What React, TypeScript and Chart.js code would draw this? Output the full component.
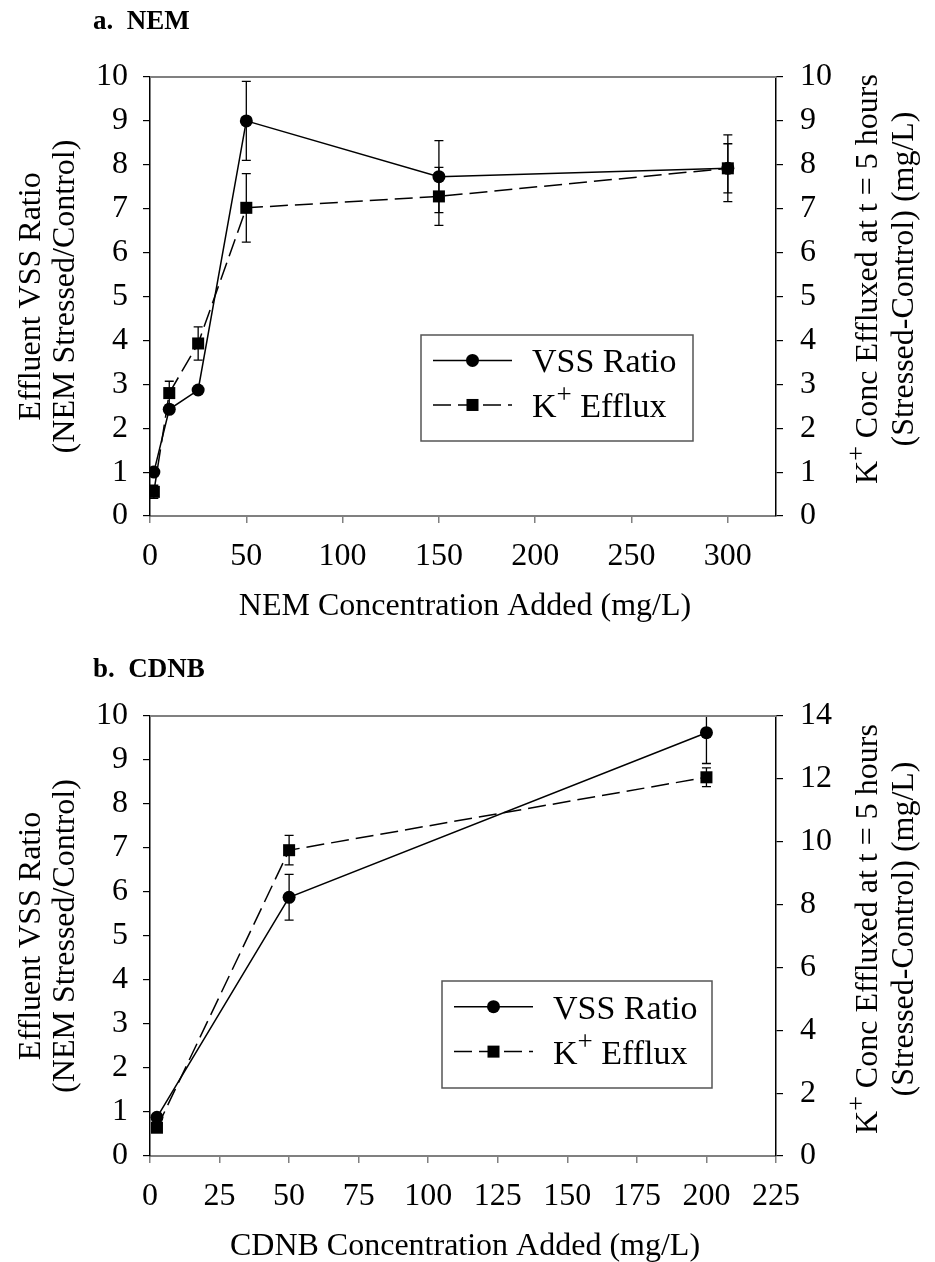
import React, { useEffect, useRef } from 'react';
import { Chart, registerables } from 'chart.js';

Chart.register(...registerables);

const SERIF = '"Liberation Serif", "Times New Roman", serif';

// Panel a: NEM
const nemConc = [2, 10, 25, 50, 150, 300];
const nemVss = [1.0, 2.43, 2.87, 9.0, 7.73, 7.92];
const nemVssErr = [0, 0, 0, 0.9, 0.82, 0.76];
const nemK = [0.55, 2.8, 3.93, 7.02, 7.28, 7.92];
const nemKErr = [0.15, 0.27, 0.38, 0.78, 0.66, 0.56];

// Panel b: CDNB
const cdnbConc = [2.5, 50, 200];
const cdnbVss = [0.88, 5.88, 9.62];
const cdnbVssErr = [0, 0.52, 0.7];
const cdnbK = [0.9, 9.73, 12.05];
const cdnbKErr = [0, 0.47, 0.3];

const vssLabel = 'VSS Ratio';
const kLabel = 'Efflux';

type Part = { t: string; size: number; rise?: number; bold?: boolean };

function partsWidth(ctx: CanvasRenderingContext2D, parts: Part[]) {
  let w = 0;
  for (const p of parts) {
    ctx.font = `${p.bold ? 'bold ' : ''}${p.size}px ${SERIF}`;
    w += ctx.measureText(p.t).width;
  }
  return w;
}

function drawParts(ctx: CanvasRenderingContext2D, parts: Part[], x: number, y: number, align: 'left' | 'center') {
  let cx = align === 'center' ? x - partsWidth(ctx, parts) / 2 : x;
  ctx.textAlign = 'left';
  ctx.textBaseline = 'alphabetic';
  for (const p of parts) {
    ctx.font = `${p.bold ? 'bold ' : ''}${p.size}px ${SERIF}`;
    ctx.fillText(p.t, cx, y - (p.rise || 0));
    cx += ctx.measureText(p.t).width;
  }
}

const kPlus = (rest: string, size: number): Part[] => [
  { t: 'K', size },
  { t: '+', size: Math.round(size * 0.8), rise: size * 0.4 },
  { t: rest, size },
];

type Panel = {
  title: string;
  xTitle: string;
  conc: number[];
  vss: number[];
  vssErr: number[];
  k: number[];
  kErr: number[];
  xMax: number;
  xStep: number;
  y1Max: number;
  y1Step: number;
  areaTop: number;
  areaBottom: number;
  titleY: number;
  rightTitleY: number;
  legend: { x: number; y: number; w: number; h: number };
};

const W = 935;
const H = 631;
const AREA_LEFT = 150;
const AREA_RIGHT = 776;

const panels: Panel[] = [
  {
    title: 'a.  NEM',
    xTitle: 'NEM Concentration Added (mg/L)',
    conc: nemConc,
    vss: nemVss,
    vssErr: nemVssErr,
    k: nemK,
    kErr: nemKErr,
    xMax: 325,
    xStep: 50,
    y1Max: 10,
    y1Step: 1,
    areaTop: 77,
    areaBottom: 516,
    titleY: 29,
    rightTitleY: 279,
    legend: { x: 421, y: 335, w: 272, h: 106 },
  },
  {
    title: 'b.  CDNB',
    xTitle: 'CDNB Concentration Added (mg/L)',
    conc: cdnbConc,
    vss: cdnbVss,
    vssErr: cdnbVssErr,
    k: cdnbK,
    kErr: cdnbKErr,
    xMax: 225,
    xStep: 25,
    y1Max: 14,
    y1Step: 2,
    areaTop: 85,
    areaBottom: 525,
    titleY: 46,
    rightTitleY: 298,
    legend: { x: 442, y: 350, w: 270, h: 107 },
  },
];

// Vertical error bars with caps, clipped to the plot area
const errorBars = {
  id: 'errorBars',
  beforeDatasetsDraw(chart: any) {
    const { ctx, chartArea } = chart;
    ctx.save();
    ctx.beginPath();
    ctx.rect(chartArea.left, chartArea.top - 1, chartArea.right - chartArea.left, chartArea.bottom - chartArea.top + 2);
    ctx.clip();
    ctx.strokeStyle = '#000';
    ctx.lineWidth = 1.3;
    chart.data.datasets.forEach((ds: any) => {
      const xs = chart.scales.x;
      const ys = chart.scales[ds.yAxisID];
      ds.data.forEach((pt: any, i: number) => {
        const e = ds.errors[i];
        if (!e) return;
        const x = xs.getPixelForValue(pt.x);
        const y1 = ys.getPixelForValue(pt.y + e);
        const y2 = ys.getPixelForValue(pt.y - e);
        ctx.beginPath();
        ctx.moveTo(x, y1);
        ctx.lineTo(x, y2);
        ctx.moveTo(x - 4.5, y1);
        ctx.lineTo(x + 4.5, y1);
        ctx.moveTo(x - 4.5, y2);
        ctx.lineTo(x + 4.5, y2);
        ctx.stroke();
      });
    });
    ctx.restore();
  },
};

// Frame top line, panel caption, axis titles and boxed legend
const decorations = {
  id: 'decorations',
  afterDraw(chart: any, _args: any, opts: any) {
    const p: Panel = opts.panel;
    const { ctx, chartArea } = chart;
    ctx.save();
    ctx.fillStyle = '#000';

    // top frame line
    ctx.strokeStyle = '#808080';
    ctx.lineWidth = 2;
    ctx.beginPath();
    ctx.moveTo(chartArea.left, chartArea.top);
    ctx.lineTo(chartArea.right, chartArea.top);
    ctx.stroke();

    // panel caption
    drawParts(ctx, [{ t: p.title, size: 27, bold: true }], 93, p.titleY, 'left');

    const midY = (chartArea.top + chartArea.bottom) / 2;
    const midX = (chartArea.left + chartArea.right) / 2;

    // x-axis title
    ctx.font = `32px ${SERIF}`;
    ctx.textAlign = 'center';
    ctx.textBaseline = 'middle';
    ctx.fillText(p.xTitle, midX + 2, chartArea.bottom + 91);

    // left axis title (two lines, reading upward)
    ctx.save();
    ctx.translate(32, midY);
    ctx.rotate(-Math.PI / 2);
    ctx.font = `32px ${SERIF}`;
    ctx.textAlign = 'center';
    ctx.textBaseline = 'middle';
    ctx.fillText('Effluent VSS Ratio', 0, 0);
    ctx.fillText('(NEM Stressed/Control)', 0, 34);
    ctx.restore();

    // right axis title (two lines, reading upward)
    ctx.save();
    ctx.translate(866, p.rightTitleY);
    ctx.rotate(-Math.PI / 2);
    drawParts(ctx, kPlus(' Conc Effluxed at t = 5 hours', 32), 0, 11, 'center');
    drawParts(ctx, [{ t: '(Stressed-Control) (mg/L)', size: 32 }], 0, 47, 'center');
    ctx.restore();

    // legend
    const L = p.legend;
    ctx.strokeStyle = '#555';
    ctx.lineWidth = 1.5;
    ctx.strokeRect(L.x, L.y, L.w, L.h);
    const r1 = L.y + L.h * 0.24;
    const r2 = L.y + L.h * 0.66;
    const lx1 = L.x + 12;
    const lx2 = L.x + 91;
    const mx = (lx1 + lx2) / 2;
    ctx.strokeStyle = '#000';
    ctx.lineWidth = 1.5;
    ctx.beginPath();
    ctx.moveTo(lx1, r1);
    ctx.lineTo(lx2, r1);
    ctx.stroke();
    ctx.beginPath();
    ctx.arc(mx, r1, 6.5, 0, Math.PI * 2);
    ctx.fill();
    ctx.setLineDash([18, 7]);
    ctx.beginPath();
    ctx.moveTo(lx1, r2);
    ctx.lineTo(lx2, r2);
    ctx.stroke();
    ctx.setLineDash([]);
    ctx.fillRect(mx - 6, r2 - 6, 12, 12);
    const tx = L.x + 111;
    drawParts(ctx, [{ t: vssLabel, size: 34 }], tx, r1 + 12, 'left');
    drawParts(ctx, kPlus(' ' + kLabel, 34), tx, r2 + 12, 'left');

    ctx.restore();
  },
};

function PanelChart({ panel }: { panel: Panel }) {
  const ref = useRef<HTMLCanvasElement>(null);
  useEffect(() => {
    if (!ref.current) return;
    const tickFont = { family: SERIF, size: 32 };
    const chart = new Chart(ref.current, {
      type: 'scatter',
      data: {
        datasets: [
          {
            label: vssLabel,
            data: panel.conc.map((x, i) => ({ x, y: panel.vss[i] })),
            errors: panel.vssErr,
            yAxisID: 'y',
            showLine: true,
            borderColor: '#000',
            backgroundColor: '#000',
            borderWidth: 1.5,
            pointStyle: 'circle',
            pointRadius: 6.5,
            pointBorderWidth: 0,
          } as any,
          {
            label: 'K+ ' + kLabel,
            data: panel.conc.map((x, i) => ({ x, y: panel.k[i] })),
            errors: panel.kErr,
            yAxisID: 'y1',
            showLine: true,
            borderColor: '#000',
            backgroundColor: '#000',
            borderWidth: 1.5,
            borderDash: [18, 7],
            pointStyle: 'rect',
            pointRadius: 8.5,
            pointBorderWidth: 0,
          } as any,
        ],
      },
      options: {
        animation: false,
        responsive: false,
        devicePixelRatio: 1,
        layout: { padding: { top: panel.areaTop, left: 0, right: 0, bottom: 0 } },
        plugins: {
          legend: { display: false },
          tooltip: { enabled: false },
          decorations: { panel },
        } as any,
        scales: {
          x: {
            type: 'linear',
            min: 0,
            max: panel.xMax,
            ticks: {
              stepSize: panel.xStep,
              includeBounds: false,
              autoSkip: false,
              maxRotation: 0,
              font: tickFont,
              color: '#000',
              padding: 14,
            },
            grid: { drawOnChartArea: false, tickLength: 7, color: '#808080', lineWidth: 1.5 },
            border: { color: '#808080', width: 2 },
            afterFit: (s: any) => {
              s.height = H - panel.areaBottom;
            },
          },
          y: {
            type: 'linear',
            position: 'left',
            min: 0,
            max: 10,
            ticks: { stepSize: 1, autoSkip: false, font: tickFont, color: '#000', padding: 15 },
            grid: { drawOnChartArea: false, tickLength: 7, color: '#000', lineWidth: 1.2 },
            border: { color: '#000', width: 1.5 },
            afterFit: (s: any) => {
              s.width = AREA_LEFT;
            },
          },
          y1: {
            type: 'linear',
            position: 'right',
            min: 0,
            max: panel.y1Max,
            ticks: { stepSize: panel.y1Step, autoSkip: false, font: tickFont, color: '#000', padding: 17 },
            grid: { drawOnChartArea: false, tickLength: 7, color: '#000', lineWidth: 1.2 },
            border: { color: '#000', width: 1.5 },
            afterFit: (s: any) => {
              s.width = W - AREA_RIGHT;
            },
          },
        },
      } as any,
      plugins: [errorBars, decorations],
    });
    return () => chart.destroy();
  }, [panel]);
  return <canvas ref={ref} width={W} height={H} style={{ display: 'block', width: W, height: H }} />;
}

export default function App() {
  return (
    <div style={{ position: 'absolute', left: 0, top: 0, width: W, height: 2 * H, background: '#fff' }}>
      {panels.map((p) => (
        <PanelChart key={p.title} panel={p} />
      ))}
    </div>
  );
}
